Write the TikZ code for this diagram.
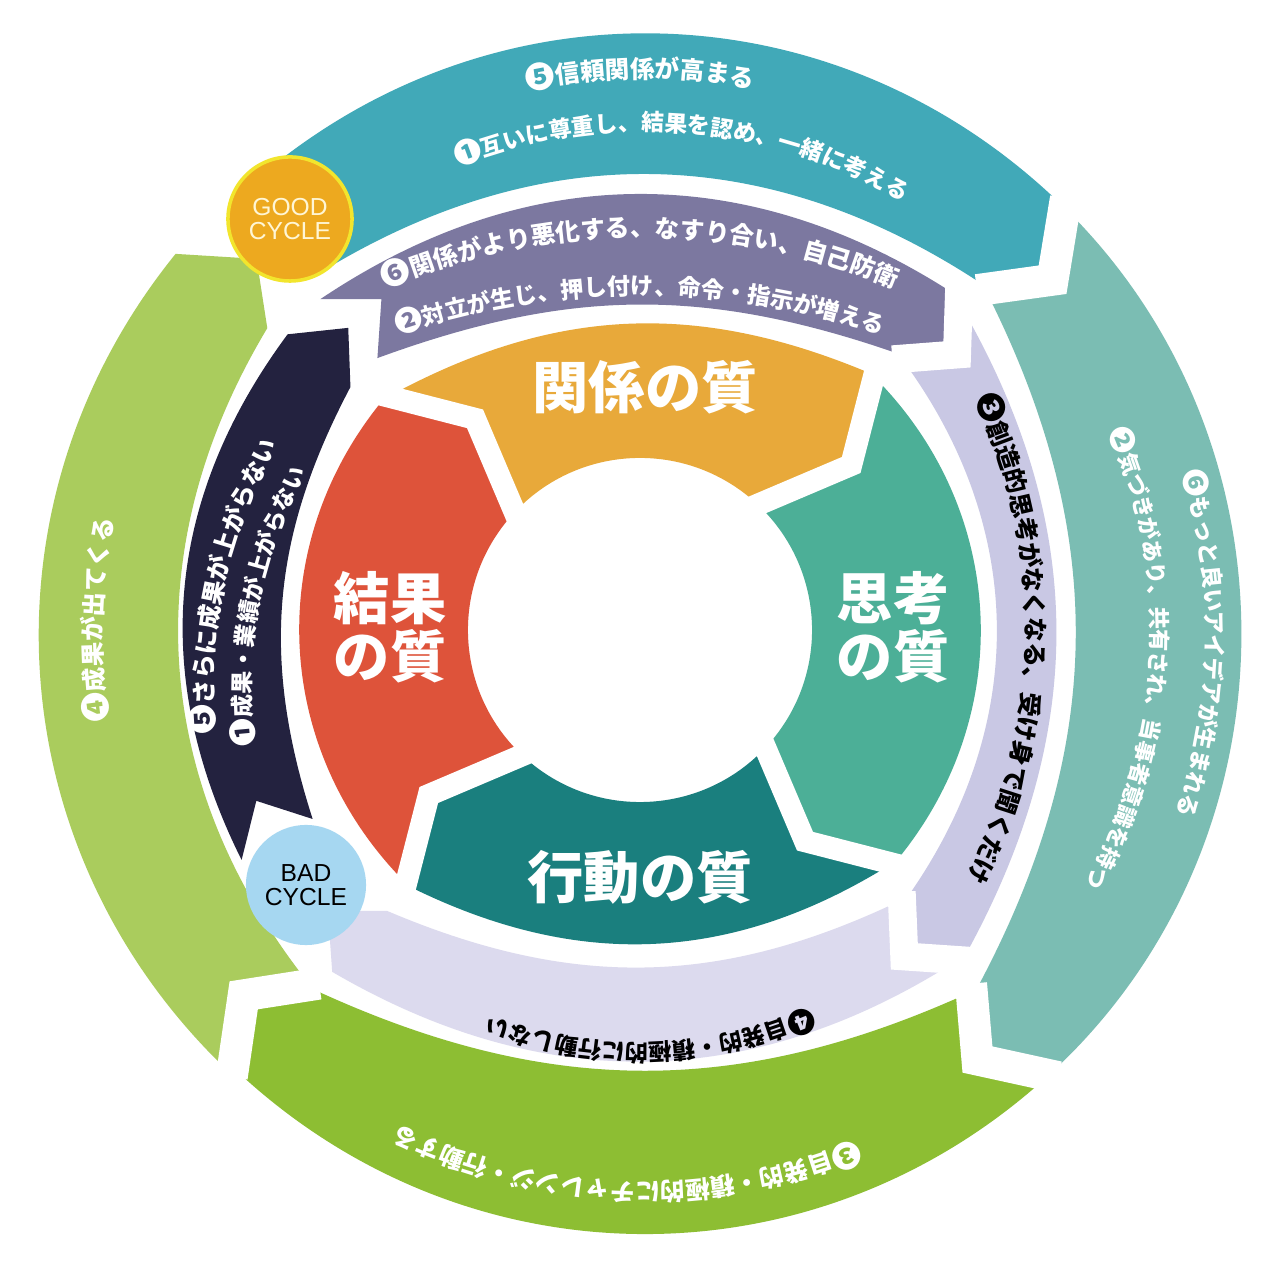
\documentclass[tikz,border=0pt]{standalone}
\usepackage{fontspec}
\newfontfamily\jp{Noto Sans CJK JP}
\newfontfamily\arial{Liberation Sans}
\usetikzlibrary{decorations.text}

\definecolor{gteal}{HTML}{41A9B8}
\definecolor{gtealgreen}{HTML}{7BBDB3}
\definecolor{ggreen}{HTML}{8DBE33}
\definecolor{glightgreen}{HTML}{AACC5D}
\definecolor{bnavy}{HTML}{23223F}
\definecolor{bpurple}{HTML}{7C78A0}
\definecolor{blavender}{HTML}{C9C8E4}
\definecolor{bpale}{HTML}{DCDAEE}
\definecolor{qorange}{HTML}{E8A93A}
\definecolor{qgreen}{HTML}{4CAF97}
\definecolor{qteal}{HTML}{1A7F7E}
\definecolor{qred}{HTML}{DE533A}
\definecolor{goodorange}{HTML}{EDA91F}
\definecolor{goodrim}{HTML}{F2E52D}
\definecolor{goodtext}{HTML}{FFF6D5}
\definecolor{badblue}{HTML}{A6D7F1}

% colour, from, to, outer r, inner r, tip r, tip shift, outer bend, inner bend
\newcommand{\chevseg}[9]{%
  \fill[#1] (#2:#4) to[bend left=#8] (#3:#4) -- ({#3-#7}:#6)
    -- (#3:#5) to[bend right=#9] (#2:#5) -- ({#2-#7}:#6) -- cycle;}
% angle, outer r, inner r, tip r, tip shift, gap width
\newcommand{\gapline}[6]{%
  \draw[gap,line width=#6] (#1:{#2+8}) -- ({#1-#5}:#4) -- (#1:{#3-8});}
% centre, radius, from, to, format, text
\newcommand{\ringtext}[6]{%
  \path[decorate,decoration={text along path,text align=center,
    text={|#5|#6}}] #1 ++(#3:#2) arc[start angle=#3,end angle=#4,radius=#2];}
\newcommand{\rw}[1]{\color{white}\jp\bfseries\fontsize{#1}{#1}\selectfont}
\newcommand{\rb}[1]{\color{black}\jp\bfseries\fontsize{#1}{#1}\selectfont}

\begin{document}
\begin{tikzpicture}[x=0.01cm,y=0.01cm,
    gap/.style={draw=white},
    qlabel/.style={text=white,align=center,
      font=\jp\bfseries\fontsize{16}{16.5}\selectfont},
    cyclelabel/.style={circle,inner sep=0pt,align=center,
      font=\arial\fontsize{7}{7}\selectfont}]
  \fill[white] (-640,-650) rectangle (640,630);
  \useasboundingbox (-640,-650) rectangle (640,630);

  % good cycle ring
  \begin{scope}[shift={(5,-4)}]
    \chevseg{gteal}{132}{46}{598}{486}{540}{5}{43}{32.5}
    \chevseg{gtealgreen}{46}{-47}{598}{486}{540}{5}{46.5}{27.7}
    \chevseg{ggreen}{-47}{-133}{598}{486}{540}{5}{43}{24.8}
    \chevseg{glightgreen}{227}{141}{604}{486}{540}{5}{43}{35}
    \foreach \b in {46,-47,-133} {\gapline{\b}{598}{486}{540}{5}{0.32cm}}
  \end{scope}

  % bad cycle ring
  \chevseg{bnavy}{210}{140}{460}{378}{420}{6}{31.5}{22.8}
  \chevseg{bpurple}{134}{47}{460}{378}{420}{6}{33.4}{19.6}
  \chevseg{blavender}{47}{-45}{460}{378}{420}{6}{29.9}{36.2}
  \chevseg{bpale}{-45}{-132}{460}{378}{420}{6}{31.8}{24.5}
  \foreach \b in {47,-45} {\gapline{\b}{460}{378}{420}{6}{0.28cm}}

  % quality ring
  \chevseg{qorange}{138}{48}{345}{172}{268}{10}{25.9}{45}
  \chevseg{qgreen}{48}{-42}{345}{172}{268}{10}{42.6}{45}
  \chevseg{qteal}{-42}{-132}{345}{172}{268}{10}{29.4}{45}
  \chevseg{qred}{228}{138}{345}{172}{268}{10}{42.6}{45}
  \foreach \b in {138,48,-42,-132} {\gapline{\b}{345}{172}{268}{10}{0.22cm}}

  % ring texts, good cycle
  \begin{scope}[shift={(5,-4)}]
    \ringtext{(0,0)}{556}{125}{56}{\rw{8.4}}{❺|\rw{7}|信頼関係が高まる}
    \ringtext{(0,0)}{503}{130}{41}{\rw{7.8}}{❶|\rw{6.5}|互いに尊重し、結果を認め、一緒に考える}
    \ringtext{(0,0)}{561}{30}{-32}{\rw{7.8}}{❻|\rw{6.5}|もっと良いアイデアが生まれる}
    \ringtext{(0,0)}{506}{35}{-41}{\rw{7.6}}{❷|\rw{6.3}|気づきがあり、共有され、当事者意識を持つ}
    \ringtext{(0,0)}{549}{-50}{-134}{\rw{8.4}}{❸|\rw{7}|自発的・積極的にチャレンジ・行動する}
    \ringtext{(0,0)}{543}{210}{147}{\rw{8.4}}{❹|\rw{7}|成果が出てくる}
  \end{scope}
  % ring texts, bad cycle
  \ringtext{(0,-260)}{653}{116}{64}{\rw{8.4}}{❻|\rw{7}|関係がより悪化する、なすり合い、自己防衛}
  \ringtext{(0,-420)}{755}{112}{68}{\rw{7.9}}{❷|\rw{6.6}|対立が生じ、押し付け、命令・指示が増える}
  \ringtext{(-165,0)}{551}{35}{-37}{\rb{8.4}}{❸|\rb{7}|創造的思考がなくなる、受け身で聞くだけ}
  \ringtext{(0,0)}{414}{-60}{-117}{\rb{7.9}}{❹|\rb{6.6}|自発的・積極的に行動しない}
  \ringtext{(60,-60)}{487}{190}{145}{\rw{8.4}}{❺|\rw{7}|さらに成果が上がらない}
  \ringtext{(60,-60)}{449}{192}{146}{\rw{7.9}}{❶|\rw{6.6}|成果・業績が上がらない}

  % quality labels
  \node[qlabel] (kankei) at (5,243) {関係の質};
  \node[qlabel] (shikou) at (253,3) {思考\\の質};
  \node[qlabel] (koudou) at (0,-247) {行動の質};
  \node[qlabel] (kekka)  at (-250,3) {結果\\の質};

  % cycle badges
  \node[cyclelabel,fill=goodorange,draw=goodrim,line width=1pt,
    minimum size=1.24cm,text=goodtext] (good) at (-350,411) {GOOD\\CYCLE};
  \node[cyclelabel,fill=badblue,minimum size=1.2cm,text=black]
    (bad) at (-334,-255) {BAD\\CYCLE};
\end{tikzpicture}
\end{document}
